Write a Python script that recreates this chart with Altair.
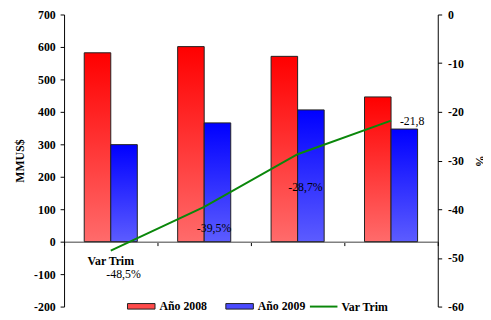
import altair as alt
import pandas as pd

# ---- data ----
quarters = ["I Trim", "II Trim", "III Trim", "IV Trim"]
series = ["Año 2008", "Año 2009"]
ano_2008 = [582, 601, 571, 446]
ano_2009 = [299, 366, 406, 347]
line_name = "Var Trim"
var_trim = [-48.5, -39.5, -28.7, -21.8]
var_labels = ["-48,5%", "-39,5%", "-28,7%", "-21,8"]
left_ticks = [-200, -100, 0, 100, 200, 300, 400, 500, 600, 700]
right_ticks = [-60, -50, -40, -30, -20, -10, 0]

bars = pd.DataFrame({
    "q": quarters * 2,
    "serie": [series[0]] * len(quarters) + [series[1]] * len(quarters),
    "v": ano_2008 + ano_2009,
})
line = pd.DataFrame({"q": quarters, "v": var_trim, "label": var_labels, "serie": line_name})

FONT = "Liberation Serif"
W, H = 380, 297
LBL = "replace('' + datum.value, '\u2212', '-')"

xenc = alt.X(
    "q:N", sort=quarters,
    scale=alt.Scale(domain=quarters, paddingInner=0, paddingOuter=0),
    axis=alt.Axis(labels=False, title=None, tickBand="extent", offset=-66,
                  domainColor="#808080", domainWidth=1.5, tickColor="black", tickSize=4),
)
xoff = alt.XOffset("serie:N", scale=alt.Scale(domain=series, paddingInner=0, paddingOuter=0.76))
yleft = alt.Y(
    "v:Q", scale=alt.Scale(domain=[-200, 700], nice=False, zero=False),
    axis=alt.Axis(values=left_ticks, title="MMUS$", tickSize=4, labelPadding=5, titlePadding=7,
                  labelExpr=LBL),
)
yright = alt.Y(
    "v:Q", scale=alt.Scale(domain=[-60, 0], nice=False, zero=False),
    axis=alt.Axis(orient="right", values=right_ticks, title="%", tickSize=4, labelPadding=6,
                  titlePadding=9, labelExpr=LBL),
)


def grad(top, bottom):
    return alt.Gradient(
        gradient="linear",
        stops=[alt.GradientStop(color=top, offset=0), alt.GradientStop(color=bottom, offset=1)],
        x1=0, x2=0, y1=0, y2=1,
    )


base_bars = alt.Chart(bars)
red = base_bars.transform_filter(alt.datum.serie == series[0]).mark_bar(
    fill=grad("#ff0000", "#ff6b6b"), stroke="#222222", strokeWidth=1
).encode(x=xenc, xOffset=xoff, y=yleft)
blue = base_bars.transform_filter(alt.datum.serie == series[1]).mark_bar(
    fill=grad("#0000ff", "#5c5cff"), stroke="#222222", strokeWidth=1
).encode(x=xenc, xOffset=xoff, y=yleft)
bar_legend = base_bars.mark_bar(
    stroke="#222222", strokeWidth=1, opacity=0
).encode(
    x=xenc, xOffset=xoff, y=yleft,
    fill=alt.Fill("serie:N", scale=alt.Scale(domain=series, range=["#ff4a4a", "#4a4aff"]),
                  legend=alt.Legend(orient="none", legendX=64, legendY=282, direction="horizontal",
                                    title=None, symbolType="M-1,-0.2H1V0.2H-1Z", symbolSize=784,
                                    symbolStrokeColor="#222222", symbolStrokeWidth=1,
                                    symbolOpacity=1,
                                    labelFont=FONT, labelFontSize=12, labelFontWeight="bold",
                                    labelColor="black", labelOffset=4, columnPadding=16)),
)
bar_layer = alt.layer(bar_legend, red, blue)

base_line = alt.Chart(line)
green = base_line.mark_line(strokeWidth=2).encode(
    x=xenc, y=yright,
    stroke=alt.Stroke("serie:N", scale=alt.Scale(domain=[line_name], range=["#0a870a"]),
                      legend=alt.Legend(orient="none", legendX=249, legendY=282, title=None,
                                        direction="horizontal",
                                        symbolType="stroke", symbolSize=784, symbolStrokeWidth=2,
                                        labelFont=FONT, labelFontSize=12, labelFontWeight="bold",
                                        labelColor="black", labelOffset=3)),
)

label_offsets = [(13, 24, "center"), (10, 22, "center"), (8, 33, "center"), (9, 0, "left")]
texts = []
for q, (dx, dy, al) in zip(quarters, label_offsets):
    texts.append(
        base_line.transform_filter(alt.datum.q == q).mark_text(
            dx=dx, dy=dy, align=al, baseline="middle", font=FONT, fontSize=12, color="black"
        ).encode(x=xenc, y=yright, text="label:N")
    )
name_label = base_line.transform_filter(alt.datum.q == quarters[0]).mark_text(
    dx=0, dy=11, align="center", baseline="middle", font=FONT, fontSize=12,
    fontWeight="bold", color="black"
).encode(x=xenc, y=yright, text="serie:N")

line_layer = alt.layer(green, *texts, name_label)

chart = alt.layer(bar_layer, line_layer).resolve_scale(y="independent").properties(
    width=W, height=H,
    autosize=alt.AutoSizeParams(type="none"),
    padding={"left": 57, "top": 4, "right": 46, "bottom": 8},
    background="white",
).configure_view(stroke=None).configure_axis(
    labelFont=FONT, labelFontSize=12, labelFontWeight="bold", labelColor="black",
    titleFont=FONT, titleFontSize=12, titleFontWeight="bold", titleColor="black",
    grid=False, domainColor="black", tickColor="black",
)

chart.save("out.html", embed_options={"renderer": "svg", "actions": False})
